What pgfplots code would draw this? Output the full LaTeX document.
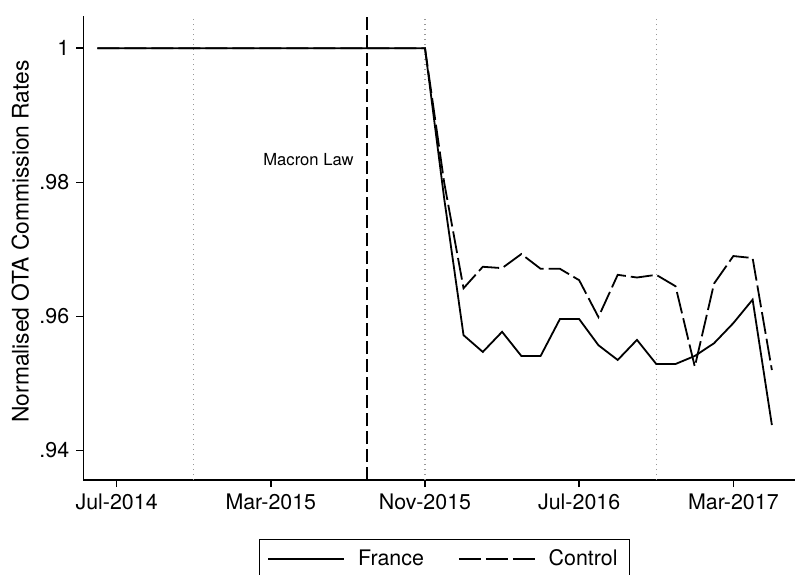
\documentclass[border=0pt]{standalone}
\usepackage{fontspec}
\setmainfont{TeX Gyre Heros}
\usepackage{pgfplots}
\pgfplotsset{compat=1.18}

% Monthly index: 0 = Jul-2014, 8 = Mar-2015, 16 = Nov-2015, 24 = Jul-2016, 32 = Mar-2017
\pgfplotstableread{
m   france  control
-1  1.0000  1.0000
0   1.0000  1.0000
1   1.0000  1.0000
2   1.0000  1.0000
3   1.0000  1.0000
4   1.0000  1.0000
5   1.0000  1.0000
6   1.0000  1.0000
7   1.0000  1.0000
8   1.0000  1.0000
9   1.0000  1.0000
10  1.0000  1.0000
11  1.0000  1.0000
12  1.0000  1.0000
13  1.0000  1.0000
14  1.0000  1.0000
15  1.0000  1.0000
16  1.0000  1.0000
17  0.9775  0.9799
18  0.9572  0.9642
19  0.9547  0.9674
20  0.9577  0.9672
21  0.9541  0.9693
22  0.9541  0.9671
23  0.9596  0.9671
24  0.9596  0.9654
25  0.9557  0.9599
26  0.9535  0.9662
27  0.9565  0.9658
28  0.9529  0.9662
29  0.9529  0.9645
30  0.9541  0.9525
31  0.9560  0.9649
32  0.9590  0.9690
33  0.9625  0.9687
34  0.9438  0.9520
}\rates

\pgfplotsset{
  refline/.style={gray!80, line width=0.6pt, dash pattern=on 0.6pt off 1.9pt, forget plot},
}

\begin{document}
\begin{tikzpicture}
\begin{axis}[
  scale only axis,
  width=355.85pt, height=232pt,
  xmin=-1.73, xmax=35.2,
  ymin=0.9356, ymax=1.0048,
  axis x line=bottom, axis y line=left,
  axis line style={-, line width=0.7pt, black},
  tick align=outside,
  major tick length=3.5pt,
  tick style={black, line width=0.7pt},
  xtick={0,8,16,24,32},
  xticklabels={Jul-2014,Mar-2015,Nov-2015,Jul-2016,Mar-2017},
  ytick={0.94,0.96,0.98,1},
  yticklabels={.94,.96,.98,1},
  /pgf/number format/assume math mode=true,
  tick label style={font=\fontsize{10.7}{12.8}\selectfont},
  every axis y label/.style={at={(axis description cs:-0.0885,0.514)}, anchor=center, rotate=90},
  ylabel={Normalised OTA Commission Rates},
  label style={font=\fontsize{11.4}{13.6}\selectfont},
  legend columns=2,
  legend style={
    at={(axis description cs:0.5075,0)}, anchor=north, yshift=-29.5pt,
    draw=black, line width=0.6pt,
    inner xsep=4pt, inner ysep=3pt,
    font=\fontsize{10.7}{12.8}\selectfont,
    /tikz/every odd column/.append style={column sep=4.5pt},
    /tikz/every even column/.append style={column sep=15pt},
  },
  legend image code/.code={\draw[#1] (0pt,0pt) -- (38pt,0pt);},
]
  % reference months
  \addplot[refline] coordinates {(4,0.9356) (4,1.0048)};
  \addplot[refline] coordinates {(16,0.9356) (16,1.0048)};
  \addplot[refline] coordinates {(28,0.9356) (28,1.0048)};
  % Macron Law (Aug-2015)
  \addplot[black, line width=1pt, dash pattern=on 6.5pt off 2.5pt, forget plot]
    coordinates {(13,0.9356) (13,1.0048)};

  \addplot[black, line width=0.9pt] table[x=m, y=france] {\rates};
  \addlegendentry{France}
  \addplot[black, line width=0.9pt, dash pattern=on 11pt off 2.5pt] table[x=m, y=control] {\rates};
  \addlegendentry{Control}

  \node[anchor=east, font=\fontsize{8.3}{10}\selectfont, inner sep=0pt] at (axis cs:12.31,0.9834) {Macron Law};

  \coordinate (BL) at (rel axis cs:0,0);
  \coordinate (TR) at (rel axis cs:1,1);
\end{axis}
\pgfresetboundingbox
\path[use as bounding box] ([xshift=-41.65pt, yshift=-47pt]BL) rectangle ([yshift=8pt]TR);
\end{tikzpicture}
\end{document}
